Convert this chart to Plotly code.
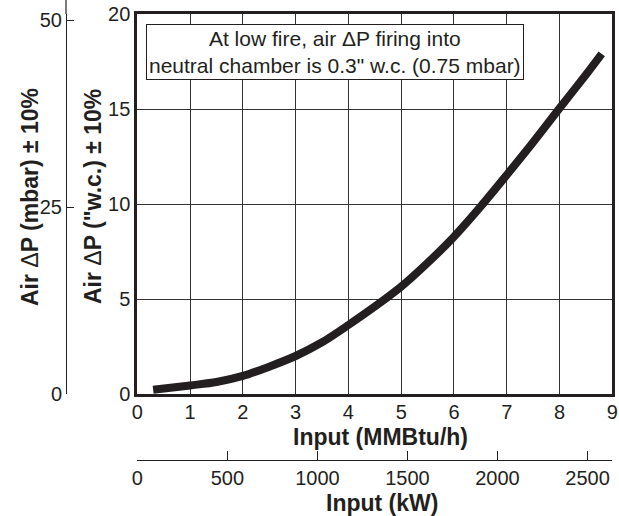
import plotly.graph_objects as go

# Data
input_mmbtu = [0.3, 1.0, 1.5, 2.0, 2.5, 3.0, 3.5, 4.0, 4.5, 5.0, 5.5, 6.0, 6.5, 7.0, 7.5, 8.0, 8.5, 8.8]
air_dp_wc = [0.22, 0.45, 0.63, 0.95, 1.44, 2.0, 2.72, 3.63, 4.6, 5.65, 6.9, 8.28, 9.85, 11.53, 13.25, 15.04, 16.8, 17.9]

mmbtu_ticks = [0, 1, 2, 3, 4, 5, 6, 7, 8, 9]
wc_ticks = [0, 5, 10, 15, 20]
mbar_ticks = [0, 25, 50]
kw_ticks = [0, 500, 1000, 1500, 2000, 2500]

note_text = 'At low fire, air \u0394P firing into<br>neutral chamber is 0.3" w.c. (0.75 mbar)'
x_title = "<b>Input (MMBtu/h)</b>"
x2_title = "<b>Input (kW)</b>"
y_title = '<b>Air </b>\u0394<b>P ("w.c.) \u00b1 10%</b>'
y2_title = "<b>Air </b>\u0394<b>P (mbar) \u00b1 10%</b>"

FONT = "Liberation Sans, Arial, sans-serif"
INK = "#231f20"

W, H = 619, 516
ML, MR, MT, MB = 2, 2, 2, 2
pw = W - ML - MR
ph = H - MT - MB


def px_x(p):
    """page pixel x -> paper fraction"""
    return (p - ML) / pw


def px_y(p):
    """page pixel y -> paper fraction"""
    return (H - MB - p) / ph


x_lo, x_hi = px_x(137.3), px_x(612.3)
y_lo, y_hi = px_y(394), px_y(14)

fig = go.Figure()
fig.add_trace(go.Scatter(
    x=input_mmbtu, y=air_dp_wc, mode="lines",
    line=dict(color=INK, width=8, shape="spline", smoothing=0.8),
    showlegend=False, hoverinfo="skip",
))
# invisible helper traces so the secondary axes render
fig.add_trace(go.Scatter(x=[0], y=[0], xaxis="x2", yaxis="y", mode="markers",
                         marker=dict(opacity=0), showlegend=False, hoverinfo="skip"))
fig.add_trace(go.Scatter(x=[0], y=[0], xaxis="x", yaxis="y2", mode="markers",
                         marker=dict(opacity=0), showlegend=False, hoverinfo="skip"))

kw_max = 9 * 293.071
mbar_max = 50 * 380 / 374

tick_font = dict(size=20, family=FONT, color=INK)
title_font = dict(size=23, family=FONT, color=INK)

fig.update_layout(
    width=W, height=H,
    margin=dict(l=ML, r=MR, t=MT, b=MB, autoexpand=False),
    paper_bgcolor="white", plot_bgcolor="white",
    font=dict(family=FONT, color=INK, size=20),
    hovermode=False,
    xaxis=dict(
        domain=[x_lo, x_hi], range=[0, 9], tickvals=mmbtu_ticks,
        showgrid=True, gridcolor="#333333", gridwidth=1,
        showline=True, linecolor=INK, linewidth=3, mirror=True,
        ticks="", tickfont=tick_font, zeroline=False, automargin=False,
        ticklabeloverflow="allow", ticklabelstandoff=-2,
        anchor="y",
    ),
    yaxis=dict(
        domain=[y_lo, y_hi], range=[0, 20], tickvals=wc_ticks,
        showgrid=True, gridcolor="#333333", gridwidth=1,
        showline=True, linecolor=INK, linewidth=3, mirror=True,
        ticks="", tickfont=tick_font, zeroline=False, automargin=False,
        ticklabeloverflow="allow",
        anchor="x",
    ),
    xaxis2=dict(
        overlaying="x", anchor="free", position=px_y(460),
        domain=[x_lo, x_hi], range=[0, kw_max], tickvals=kw_ticks,
        showgrid=False, zeroline=False, automargin=False,
        showline=True, linecolor=INK, linewidth=1.2,
        ticks="inside", ticklen=9, tickcolor=INK, tickwidth=1,
        tickfont=tick_font, side="bottom", ticklabeloverflow="allow",
    ),
    yaxis2=dict(
        overlaying="y", anchor="free", position=px_x(66),
        range=[0, mbar_max], tickvals=mbar_ticks,
        showgrid=False, zeroline=False, automargin=False,
        showline=True, linecolor=INK, linewidth=1.2,
        ticks="inside", ticklen=7, tickcolor=INK, tickwidth=1,
        tickfont=tick_font, side="left", ticklabeloverflow="allow",
    ),
    shapes=[
        # left mbar axis line continues up to the top edge
        dict(type="line", xref="paper", yref="paper",
             x0=px_x(66), x1=px_x(66), y0=y_hi, y1=px_y(0),
             line=dict(color=INK, width=1.2)),
    ],
    annotations=[
        dict(
            text=note_text, xref="x", yref="y", x=3.75, y=18.0,
            showarrow=False, align="center",
            font=dict(size=21, color=INK, family=FONT),
            bgcolor="white", bordercolor=INK, borderwidth=1, borderpad=2,
            xanchor="center", yanchor="middle",
        ),
        dict(text=x_title, xref="paper", yref="paper", x=px_x(380), y=px_y(437),
             showarrow=False, font=title_font, xanchor="center", yanchor="middle"),
        dict(text=x2_title, xref="paper", yref="paper", x=px_x(382), y=px_y(503),
             showarrow=False, font=title_font, xanchor="center", yanchor="middle"),
        dict(text=y_title, xref="paper", yref="paper", x=px_x(93), y=px_y(197),
             showarrow=False, font=title_font, textangle=-90,
             xanchor="center", yanchor="middle"),
        dict(text=y2_title, xref="paper", yref="paper", x=px_x(30), y=px_y(197),
             showarrow=False, font=title_font, textangle=-90,
             xanchor="center", yanchor="middle"),
    ],
)

# remove the browser's default 8px body margin so the figure fills the window exactly
fig.write_html(
    "out.html",
    config={"displayModeBar": False, "staticPlot": True},
    post_script="document.body.style.margin='0px';",
)
